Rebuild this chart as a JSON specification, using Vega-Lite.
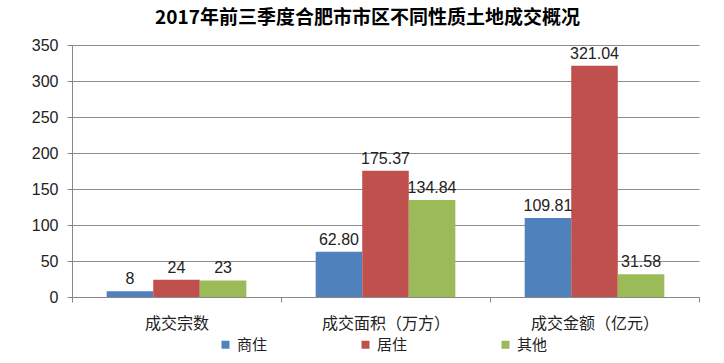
{
  "$schema": "https://vega.github.io/schema/vega-lite/v6.json",
  "autosize": "none",
  "width": 627,
  "height": 252,
  "padding": {"left": 72, "top": 45, "right": 25, "bottom": 66},
  "background": "white",
  "title": {
    "text": "2017年前三季度合肥市市区不同性质土地成交概况",
    "font": "Noto Sans CJK SC",
    "fontSize": 19,
    "fontWeight": "bold",
    "color": "#000000",
    "anchor": "middle",
    "dx": -18,
    "offset": 9
  },
  "data": {
    "values": [
      {"category": "成交宗数", "type": "商住", "value": 8, "label": "8"},
      {"category": "成交宗数", "type": "居住", "value": 24, "label": "24"},
      {"category": "成交宗数", "type": "其他", "value": 23, "label": "23"},
      {"category": "成交面积（万方）", "type": "商住", "value": 62.80, "label": "62.80"},
      {"category": "成交面积（万方）", "type": "居住", "value": 175.37, "label": "175.37"},
      {"category": "成交面积（万方）", "type": "其他", "value": 134.84, "label": "134.84"},
      {"category": "成交金额（亿元）", "type": "商住", "value": 109.81, "label": "109.81"},
      {"category": "成交金额（亿元）", "type": "居住", "value": 321.04, "label": "321.04"},
      {"category": "成交金额（亿元）", "type": "其他", "value": 31.58, "label": "31.58"}
    ]
  },
  "encoding": {
    "x": {
      "field": "category",
      "type": "nominal",
      "sort": ["成交宗数", "成交面积（万方）", "成交金额（亿元）"],
      "scale": {"paddingInner": 0, "paddingOuter": 0},
      "axis": {
        "title": null,
        "labelAngle": 0,
        "labelFont": "Noto Sans CJK SC",
        "labelFontSize": 16,
        "labelColor": "#222222",
        "labelPadding": 13,
        "tickBand": "extent",
        "tickSize": 5,
        "tickColor": "#888888",
        "domainColor": "#888888",
        "grid": false
      }
    },
    "xOffset": {
      "field": "type",
      "type": "nominal",
      "sort": ["商住", "居住", "其他"],
      "scale": {"paddingInner": 0, "paddingOuter": 0.745}
    },
    "y": {
      "field": "value",
      "type": "quantitative",
      "scale": {"domain": [0, 350], "nice": false},
      "axis": {
        "title": null,
        "values": [0, 50, 100, 150, 200, 250, 300, 350],
        "labelFont": "Liberation Sans",
        "labelFontSize": 16,
        "labelColor": "#222222",
        "labelPadding": 9,
        "tickSize": 5,
        "tickColor": "#888888",
        "domainColor": "#888888",
        "gridColor": "#8c8c8c",
        "gridWidth": 1
      }
    },
    "color": {
      "field": "type",
      "type": "nominal",
      "sort": ["商住", "居住", "其他"],
      "scale": {"domain": ["商住", "居住", "其他"], "range": ["#4F81BD", "#C0504D", "#9BBB59"]},
      "legend": {
        "title": null,
        "orient": "none",
        "direction": "horizontal",
        "legendX": 146,
        "legendY": 292,
        "symbolType": "square",
        "symbolSize": 64,
        "symbolStrokeWidth": 0,
        "labelFont": "Noto Sans CJK SC",
        "labelFontSize": 15,
        "labelColor": "#222222",
        "labelOffset": 4,
        "columnPadding": 90
      }
    }
  },
  "layer": [
    {"mark": {"type": "bar"}},
    {
      "mark": {"type": "text", "baseline": "bottom", "dy": -4, "font": "Liberation Sans", "fontSize": 16, "color": "#222222"},
      "encoding": {"text": {"field": "label"}, "color": {"value": "#222222"}}
    }
  ],
  "config": {"view": {"stroke": null}}
}
